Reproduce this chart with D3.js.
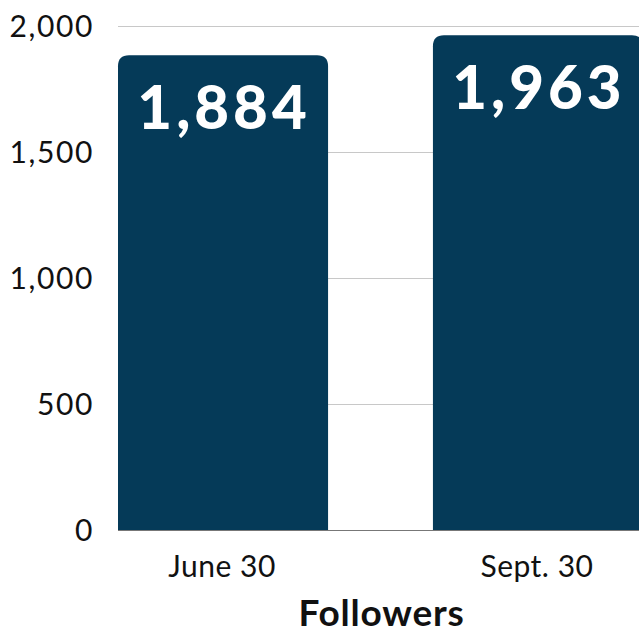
<!DOCTYPE html>
<html><head><meta charset="utf-8">
<script src="https://cdn.jsdelivr.net/npm/d3@7"></script>
<style>body{margin:0;background:#fff}svg{display:block}</style>
</head><body>
<svg id="c" width="639" height="633"></svg>
<script>
(function(){
const categories = ["June 30", "Sept. 30"];
const values = [1884, 1963];
const yTicks = [0, 500, 1000, 1500, 2000];
const axisTitle = "Followers";

const svg = d3.select("#c");
const left = 118, right = 643, plotTop = 26, bottom = 530;
const x = d3.scaleBand().domain(categories).range([left, right]).paddingInner(0.333).paddingOuter(0);
const y = d3.scaleLinear().domain([0, 2000]).range([bottom, plotTop]);
const font = "Lato, 'Open Sans', sans-serif";

// gridlines
svg.append("g").selectAll("line").data(yTicks.filter(d => d > 0)).join("line")
  .attr("x1", left).attr("x2", 639)
  .attr("y1", d => y(d) + 0.5).attr("y2", d => y(d) + 0.5)
  .attr("stroke", "#c8c8c8").attr("stroke-width", 1);

// y tick labels
svg.append("g").selectAll("text").data(yTicks).join("text")
  .attr("x", 94).attr("y", d => y(d) + 11)
  .attr("text-anchor", "end")
  .attr("font-family", font).attr("font-size", 30).attr("letter-spacing", 1.6).attr("fill", "#111")
  .text(d => d3.format(",")(d));

// bars with rounded top corners
const r = 11;
function barPath(x0, w, yTop, yBot) {
  return `M${x0},${yBot}V${yTop + r}Q${x0},${yTop} ${x0 + r},${yTop}H${x0 + w - r}Q${x0 + w},${yTop} ${x0 + w},${yTop + r}V${yBot}Z`;
}
svg.append("g").selectAll("path").data(categories).join("path")
  .attr("d", (c, i) => barPath(x(c), x.bandwidth(), y(values[i]), y(0)))
  .attr("fill", "#053a58");

// baseline
svg.append("line").attr("x1", left).attr("x2", 639)
  .attr("y1", bottom + 0.5).attr("y2", bottom + 0.5)
  .attr("stroke", "#777").attr("stroke-width", 1);

// value labels
svg.append("g").selectAll("text").data(categories).join("text")
  .attr("x", c => x(c) + x.bandwidth() / 2 + 1)
  .attr("y", (c, i) => y(values[i]) + 74)
  .attr("text-anchor", "middle")
  .attr("font-family", font).attr("font-weight", 900).attr("font-size", 60).attr("letter-spacing", 4)
  .attr("fill", "#fff")
  .text((c, i) => d3.format(",")(values[i]));

// x labels
svg.append("g").selectAll("text").data(categories).join("text")
  .attr("x", c => x(c) + x.bandwidth() / 2 - 1)
  .attr("y", 577)
  .attr("text-anchor", "middle")
  .attr("font-family", font).attr("font-size", 30).attr("letter-spacing", 0.5).attr("fill", "#111")
  .text(c => c);

// axis title
svg.append("text").attr("x", (left + right) / 2 + 1).attr("y", 626)
  .attr("text-anchor", "middle")
  .attr("font-family", font).attr("font-weight", 700).attr("font-size", 37).attr("letter-spacing", 0.8).attr("fill", "#111")
  .text(axisTitle);
})();
</script>
</body></html>
